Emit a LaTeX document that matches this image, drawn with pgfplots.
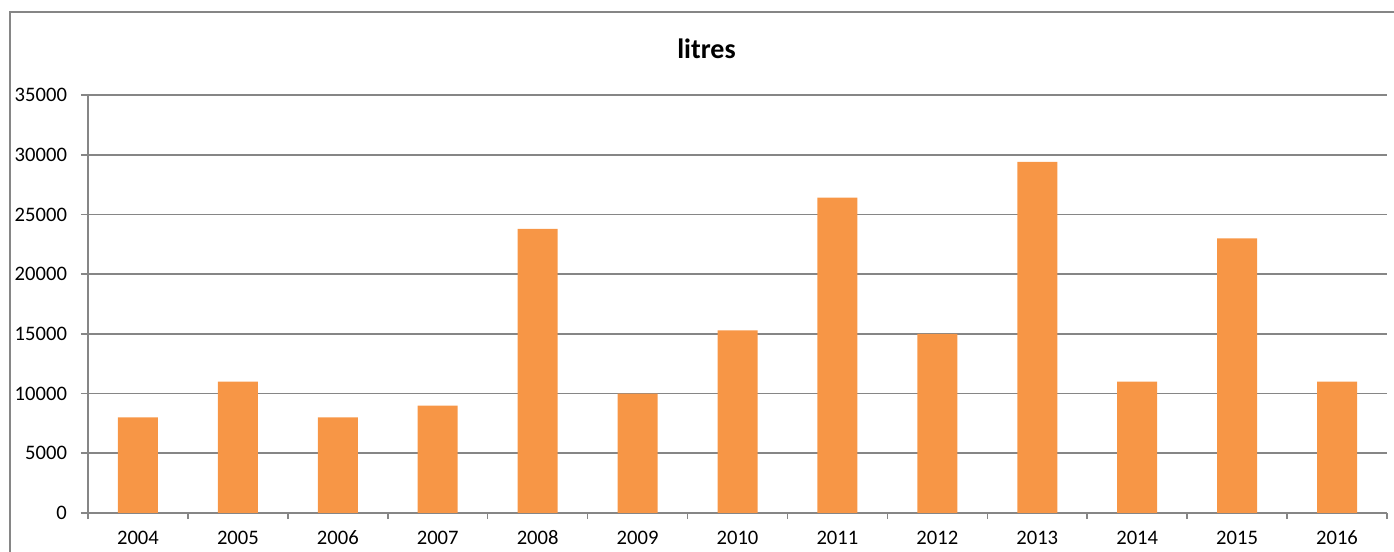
\documentclass[border=0pt]{standalone}
\usepackage{pgfplots}
\pgfplotsset{compat=1.18}
\usepackage{fontspec}
\setmainfont{Carlito}
\definecolor{barorange}{HTML}{F79646}
\definecolor{gridgray}{HTML}{868686}
\begin{document}
\begin{tikzpicture}
\begin{axis}[
  at={(0,0)}, anchor=south west,
  width=649.5pt, height=209pt, scale only axis,
  xmin=-0.5, xmax=12.5, ymin=0, ymax=35000,
  xtick={0,...,12},
  xticklabels={2004,2005,2006,2007,2008,2009,2010,2011,2012,2013,2014,2015,2016},
  minor xtick={-0.5,0.5,...,12.5},
  ytick={0,5000,...,35000},
  scaled y ticks=false,
  /pgf/number format/.cd, 1000 sep={}, assume math mode=true, /pgfplots/.cd,
  axis x line*=bottom, axis y line*=left,
  axis line style={gridgray, line width=0.8pt},
  ymajorgrids, grid style={gridgray, line width=0.8pt},
  tick align=outside,
  major x tick style={draw=none},
  minor x tick style={gridgray, line width=0.8pt},
  minor tick length=3pt,
  major y tick style={gridgray, line width=0.8pt},
  major tick length=3.5pt,
  tick label style={font=\fontsize{10.3}{12}\selectfont, text=black},
  xticklabel style={anchor=north, yshift=-2pt, text height=6.8pt, text depth=0pt},
  yticklabel style={xshift=-3.5pt},
  ybar, bar width=20pt,
]
\addplot[fill=barorange, draw=none] coordinates {
(0,8000) (1,11000) (2,8000) (3,9000) (4,23800) (5,10000) (6,15300)
(7,26400) (8,15000) (9,29400) (10,11000) (11,23000) (12,11000)};
\end{axis}
\path[use as bounding box] (-44pt,-19.5pt) rectangle (653pt,256.5pt);
\draw[gridgray, line width=0.8pt] (-39pt,-25pt) -- (-39pt,250.5pt) -- (660pt,250.5pt);
\node[anchor=base, font=\fontsize{14}{16}\selectfont\bfseries, inner sep=0pt] at (309.25pt,227pt) {litres};
\end{tikzpicture}
\end{document}
